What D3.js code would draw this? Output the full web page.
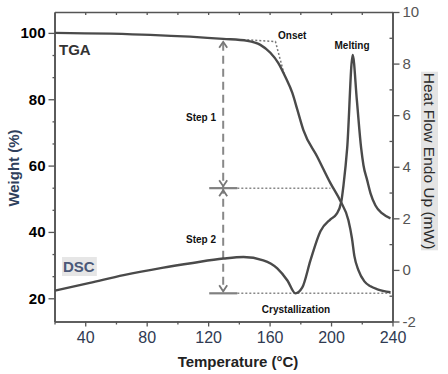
<!DOCTYPE html>
<html>
<head>
<meta charset="utf-8">
<script src="https://cdn.jsdelivr.net/npm/d3@7"></script>
<style>
  body { margin: 0; background: #fff; }
  svg text { font-family: Arial, "Liberation Sans", sans-serif; }
</style>
</head>
<body>
<svg id="myChart" width="448" height="374"></svg>
<script>
// TGA curve: temperature (C) and weight (%)
var tgaTemp   = [20.3, 82.3, 129.8, 145.5, 154.0, 160.5, 165.7, 170.3, 174.8, 178.1, 182.0, 191.1, 199.6, 206.1, 211.3, 213.6, 215.2, 217.8, 221.7, 225.7, 230.2, 238.7];
var tgaWeight = [100, 99.4, 98.2, 97.6, 96.4, 94.0, 90.9, 86.7, 81.9, 76.8, 70.7, 62.6, 54.7, 49.3, 43.5, 38.1, 32.7, 28.5, 25.1, 23.6, 22.7, 21.8];

// DSC curve: temperature (C) and heat flow (mW)
var dscTemp = [20.3, 43.0, 65.0, 90.0, 110.0, 130.0, 143.0, 155.9, 165.0, 171.6, 176.8, 181.3, 186.6, 193.1, 199.6, 203.5, 206.6, 208.1, 210.5, 214.1, 216.8, 219.6, 221.1, 223.5, 225.7, 228.9, 233.3, 238.7];
var dscHeat = [-0.80, -0.50, -0.20, 0.08, 0.27, 0.44, 0.50, 0.37, 0.06, -0.41, -0.91, -0.68, 0.37, 1.50, 1.96, 2.16, 2.62, 3.28, 4.72, 8.33, 6.58, 4.72, 4.06, 3.48, 2.97, 2.50, 2.19, 2.00];

// axis ticks
var xTicks = [40, 80, 120, 160, 200, 240];
var xMinor = [20, 60, 100, 140, 180, 220];
var weightTicks = [20, 40, 60, 80, 100];
var heatTicks = [-2, 0, 2, 4, 6, 8, 10];
var heatMinor = [-1, 1, 3, 5, 7, 9];

// step annotation (temperature of arrow, weight levels, end of dotted lines)
var stepTemp = 129.8;
var stepLevels = [97.6, 53.2, 21.5];
var stepDotEnd = [199.6, 238.7];
var stepMarker = [120.7, 139.0];

// onset tangent construction (temperature, weight)
var onsetTemp = [145.5, 163.8, 169.6];
var onsetWeight = [97.9, 97.4, 87.3];

var plotLeft = 54.5, plotRight = 392.5, plotTop = 12, plotBottom = 321.5;

var svg = d3.select("#myChart");

var x = d3.scaleLinear().domain([20, 240]).range([plotLeft, plotRight]);
var yW = d3.scaleLinear().domain([13, 106.3]).range([plotBottom, plotTop]);
var yH = d3.scaleLinear().domain([-2, 10]).range([plotBottom, plotTop]);

var axisColor = "#555";

//top frame line with small ticks
svg.append("g")
    .attr("class", "topaxis")
    .attr("transform", "translate(0," + plotTop + ")")
    .call(d3.axisBottom(x).tickValues(d3.range(40, 240, 20)).tickSize(3).tickSizeOuter(0).tickFormat(""));

//bottom axis
svg.append("g")
    .attr("class", "xaxis")
    .attr("transform", "translate(0," + plotBottom + ")")
    .call(d3.axisBottom(x).tickValues(xTicks).tickSize(5).tickSizeOuter(0).tickPadding(5)
        .tickFormat(function(d) { return d; }));

svg.append("g")
    .attr("class", "xminor")
    .attr("transform", "translate(0," + plotBottom + ")")
    .call(d3.axisBottom(x).tickValues(xMinor).tickSize(3).tickSizeOuter(0).tickFormat(""));

//left axis (weight)
svg.append("g")
    .attr("class", "yaxis")
    .attr("transform", "translate(" + plotLeft + ",0)")
    .call(d3.axisLeft(yW).tickValues(weightTicks).tickSize(6).tickSizeOuter(0).tickPadding(3));

svg.append("g")
    .attr("class", "yminor")
    .attr("transform", "translate(" + plotLeft + ",0)")
    .call(d3.axisLeft(yW).tickValues(d3.range(1, 13).map(function(i) { return 100 - i * 20 / 3; }).filter(function(v) { return v % 20 > 0.5; }))
        .tickSize(2).tickSizeOuter(0).tickFormat(""));

//right axis (heat flow)
svg.append("g")
    .attr("class", "raxis")
    .attr("transform", "translate(" + plotRight + ",0)")
    .call(d3.axisRight(yH).tickValues(heatTicks).tickSize(7).tickSizeOuter(0).tickPadding(3)
        .tickFormat(function(d) { return d; }));

svg.append("g")
    .attr("class", "rminor")
    .attr("transform", "translate(" + plotRight + ",0)")
    .call(d3.axisLeft(yH).tickValues(heatMinor).tickSize(3).tickSizeOuter(0).tickFormat(""));

svg.selectAll(".domain").attr("stroke", axisColor).attr("stroke-width", 1.6);
svg.selectAll(".tick line").attr("stroke", axisColor).attr("stroke-width", 1.3);

svg.selectAll(".xaxis text")
    .style("font-size", "16px")
    .attr("fill", "#2f3a52");

svg.selectAll(".yaxis text")
    .style("font-size", "15px")
    .style("font-weight", "bold")
    .attr("fill", "#000");

svg.selectAll(".raxis text")
    .style("font-size", "15px")
    .attr("fill", "#555");

//axis titles
svg.append("text")
    .attr("x", 238).attr("y", 367)
    .attr("text-anchor", "middle")
    .style("font-size", "15px").style("font-weight", "bold")
    .attr("fill", "#222")
    .text("Temperature (\u00B0C)");

svg.append("text")
    .attr("transform", "translate(19,168) rotate(-90)")
    .attr("text-anchor", "middle")
    .style("font-size", "15px").style("font-weight", "bold")
    .attr("fill", "#2f3f5c")
    .text("Weight (%)");

var rTitle = svg.append("g").attr("transform", "translate(424,161) rotate(90)");
var rText = rTitle.append("text")
    .attr("text-anchor", "middle")
    .attr("y", 0)
    .style("font-size", "15.5px")
    .attr("fill", "#2b2b2b")
    .text("Heat Flow Endo Up (mW)");
var rb = rText.node().getBBox();
rTitle.insert("rect", "text")
    .attr("x", rb.x - 1).attr("y", rb.y)
    .attr("width", rb.width + 2).attr("height", rb.height)
    .attr("fill", "#e4e4e4");

//step annotation: dashed vertical line with arrow heads
var stepX = x(stepTemp);
svg.append("line")
    .attr("x1", stepX).attr("x2", stepX)
    .attr("y1", yW(stepLevels[0]) + 2).attr("y2", yW(stepLevels[2]) - 2)
    .attr("stroke", "#888").attr("stroke-width", 2)
    .attr("stroke-dasharray", "8,5");

function chevron(px, py, dir) {
    // dir = 1 pointing down, -1 pointing up
    return "M" + (px - 4) + "," + (py - dir * 6) + "L" + px + "," + py + "L" + (px + 4) + "," + (py - dir * 6);
}

var heads = [[yW(stepLevels[0]) + 1, -1], [yW(stepLevels[1]) - 2, 1], [yW(stepLevels[1]) + 2, -1], [yW(stepLevels[2]) - 2, 1]];
svg.selectAll("path.head")
    .data(heads)
    .enter()
    .append("path")
    .attr("class", "head")
    .attr("d", function(d) { return chevron(stepX, d[0], d[1]); })
    .attr("fill", "none").attr("stroke", "#777").attr("stroke-width", 1.8);

//solid markers and dotted level lines
[1, 2].forEach(function(i) {
    svg.append("line")
        .attr("x1", x(stepMarker[0])).attr("x2", x(stepMarker[1]))
        .attr("y1", yW(stepLevels[i])).attr("y2", yW(stepLevels[i]))
        .attr("stroke", "#808080").attr("stroke-width", 2.2);
    svg.append("line")
        .attr("x1", x(stepMarker[1])).attr("x2", x(stepDotEnd[i - 1]))
        .attr("y1", yW(stepLevels[i])).attr("y2", yW(stepLevels[i]))
        .attr("stroke", "#888").attr("stroke-width", 1.5)
        .attr("stroke-dasharray", "2,2");
});

//onset tangent (dotted)
svg.append("path")
    .datum(d3.zip(onsetTemp, onsetWeight))
    .attr("d", d3.line().x(function(d) { return x(d[0]); }).y(function(d) { return yW(d[1]); }))
    .attr("fill", "none").attr("stroke", "#777").attr("stroke-width", 1.5)
    .attr("stroke-dasharray", "2,2");

//curves
svg.append("path")
    .datum(d3.zip(dscTemp, dscHeat))
    .attr("class", "dsc")
    .attr("d", d3.line().curve(d3.curveMonotoneX)
        .x(function(d) { return x(d[0]); })
        .y(function(d) { return yH(d[1]); }))
    .attr("fill", "none").attr("stroke", "#4a4a4a").attr("stroke-width", 2.4);

svg.append("path")
    .datum(d3.zip(tgaTemp, tgaWeight))
    .attr("class", "tga")
    .attr("d", d3.line().curve(d3.curveMonotoneX)
        .x(function(d) { return x(d[0]); })
        .y(function(d) { return yW(d[1]); }))
    .attr("fill", "none").attr("stroke", "#4a4a4a").attr("stroke-width", 2.4);

//labels
svg.append("text")
    .attr("x", 59).attr("y", 55)
    .style("font-size", "15px").style("font-weight", "bold")
    .attr("fill", "#333")
    .text("TGA");

var dscG = svg.append("g");
var dscText = dscG.append("text")
    .attr("x", 63).attr("y", 272)
    .style("font-size", "15px").style("font-weight", "bold")
    .attr("fill", "#4a5878")
    .text("DSC");
var db = dscText.node().getBBox();
dscG.insert("rect", "text")
    .attr("x", db.x - 1).attr("y", db.y - 1)
    .attr("width", db.width + 3).attr("height", db.height + 2)
    .attr("fill", "#e6e6e6");

var notes = [
    { t: "Onset", x: 278, y: 39, anchor: "start" },
    { t: "Melting", x: 352, y: 49, anchor: "middle" },
    { t: "Step 1", x: 216, y: 121, anchor: "end" },
    { t: "Step 2", x: 216, y: 243, anchor: "end" },
    { t: "Crystallization", x: 296, y: 313, anchor: "middle" }
];

svg.selectAll("text.note")
    .data(notes)
    .enter()
    .append("text")
    .attr("class", "note")
    .attr("x", function(d) { return d.x; })
    .attr("y", function(d) { return d.y; })
    .attr("text-anchor", function(d) { return d.anchor; })
    .style("font-size", "10px").style("font-weight", "bold")
    .attr("fill", "#111")
    .text(function(d) { return d.t; });
</script>
</body>
</html>
